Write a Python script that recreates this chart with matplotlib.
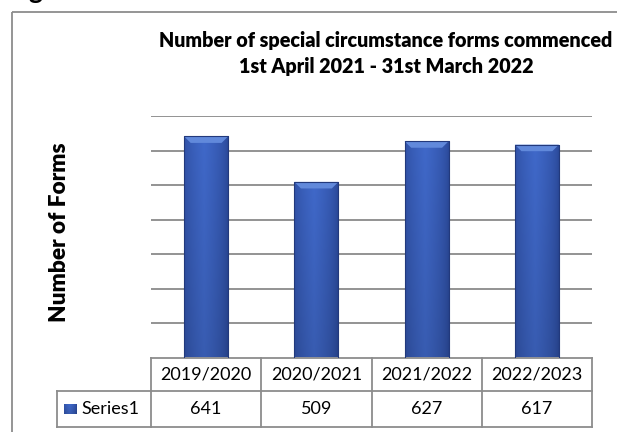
import numpy as np
import matplotlib
matplotlib.use("Agg")
import matplotlib.pyplot as plt
from matplotlib.patches import Rectangle, Polygon
from matplotlib.transforms import blended_transform_factory

# Data
categories = ["2019/2020", "2020/2021", "2021/2022", "2022/2023"]
values = [641, 509, 627, 617]
series_name = "Series1"
title_lines = ["Number of special circumstance forms commenced",
               "1st April 2021 - 31st March 2022"]
y_label = "Number of Forms"

plt.rcParams["font.family"] = ["Lato", "DejaVu Sans"]

W, H = 617, 432
fig = plt.figure(figsize=(W / 100, H / 100), dpi=100)
fig.patch.set_facecolor("white")

# Full-figure overlay in pixel units for frame, titles and table
ov = fig.add_axes([0, 0, 1, 1], zorder=0)
ov.set_xlim(0, W)
ov.set_ylim(H, 0)
ov.axis("off")

# Plot area
left_px, right_px, top_px, base_px = 151, 592, 116, 357.5
ax = fig.add_axes([left_px / W, 1 - base_px / H,
                   (right_px - left_px) / W, (base_px - top_px) / H], zorder=1)
ax.set_facecolor("none")
ax.set_xlim(-0.5, len(categories) - 0.5)
ax.set_ylim(0, 700)
ax.set_yticks(np.arange(100, 701, 100))
ax.set_xticks([])
ax.tick_params(left=False, labelleft=False)
for s in ax.spines.values():
    s.set_visible(False)
ax.yaxis.grid(True, color="#8a8a8a", linewidth=1.3)
ax.set_axisbelow(True)

# Bar fill: horizontal shading dark at the edges, slightly darker toward the base
dark = np.array([0.15, 0.26, 0.56])
mid = np.array([0.25, 0.41, 0.79])
nx, ny = 60, 100
u = np.linspace(0, 1, nx)
prof = np.clip(1 - np.abs(u - 0.45) / 0.55, 0, 1) ** 0.5
vert = np.linspace(0.88, 1.0, ny)[:, None]
img = (dark[None, None, :] + (mid - dark)[None, None, :] * prof[None, :, None]) * vert[:, :, None]
img = np.clip(img, 0, 1)

bw = 0.4
for i, v in enumerate(values):
    rect = Rectangle((i - bw / 2, 0), bw, v, facecolor="none", edgecolor="none")
    ax.add_patch(rect)
    im = ax.imshow(img, extent=[i - bw / 2, i + bw / 2, 0, v], origin="lower",
                   aspect="auto", zorder=2, interpolation="bilinear")
    im.set_clip_path(rect)
    # bevelled top
    dx, dy = 0.06, 19
    ax.add_patch(Polygon([(i - bw / 2, v), (i + bw / 2, v),
                          (i + bw / 2 - dx, v - dy), (i - bw / 2 + dx, v - dy)],
                         closed=True, facecolor="#6189db", edgecolor="none", zorder=3))
    ax.add_patch(Rectangle((i - bw / 2, 0), bw, v, facecolor="none",
                           edgecolor="#22397c", linewidth=0.8, zorder=4))
ax.set_xlim(-0.5, len(categories) - 0.5)
ax.set_ylim(0, 700)

# Outer chart frame (continues past the right and bottom edges)
ov.add_patch(Rectangle((11.5, 11.5), 800, 600, facecolor="none",
                       edgecolor="#8c8c8c", linewidth=1.3))

# Caption fragment above the frame
ov.text(28, -1, "g", fontsize=19, fontweight="bold", ha="left", va="baseline", color="black")

# Title
ov.text(386, 40, title_lines[0], fontsize=14.2, fontweight="heavy", ha="center", va="center")
ov.text(386, 67, title_lines[1], fontsize=14.2, fontweight="heavy", ha="center", va="center")

# Axis label
ov.text(60, 232, y_label, fontsize=16.3, fontweight="heavy", rotation=90,
        ha="center", va="center")

# Data table
tr = blended_transform_factory(ax.transData, ov.transData)
row_top, row_mid, row_bot = 357.5, 391, 427
gc, glw = "#8c8c8c", 1.3
n = len(categories)
ov.plot([-0.5, n - 0.5], [row_top, row_top], color=gc, lw=glw, transform=tr, zorder=5)
ov.plot([-0.5, n - 0.5], [row_mid, row_mid], color=gc, lw=glw, transform=tr, zorder=5)
ov.plot([-0.5, n - 0.5], [row_bot, row_bot], color=gc, lw=glw, transform=tr, zorder=5)
for e in np.arange(-0.5, n, 1.0):
    ov.plot([e, e], [row_top, row_bot], color=gc, lw=glw, transform=tr, zorder=5)
ov.plot([57, left_px], [row_mid, row_mid], color=gc, lw=glw, zorder=5)
ov.plot([57, left_px], [row_bot, row_bot], color=gc, lw=glw, zorder=5)
ov.plot([57, 57], [row_mid, row_bot], color=gc, lw=glw, zorder=5)

for i, (c, v) in enumerate(zip(categories, values)):
    ov.text(i, (row_top + row_mid) / 2, c, fontsize=13, ha="center", va="center", transform=tr)
    ov.text(i, (row_mid + row_bot) / 2, str(v), fontsize=13, ha="center", va="center", transform=tr)

# Legend key in the table
key = Rectangle((64, 404), 13, 10, facecolor="none", edgecolor="none")
ov.add_patch(key)
kim = ov.imshow(img[::-1], extent=[64, 77, 414, 404], aspect="auto", zorder=5)
kim.set_clip_path(key)
ov.set_xlim(0, W)
ov.set_ylim(H, 0)
ov.text(81, (row_mid + row_bot) / 2, series_name, fontsize=13, ha="left", va="center")

fig.savefig("out.png", dpi=100, facecolor="white")
